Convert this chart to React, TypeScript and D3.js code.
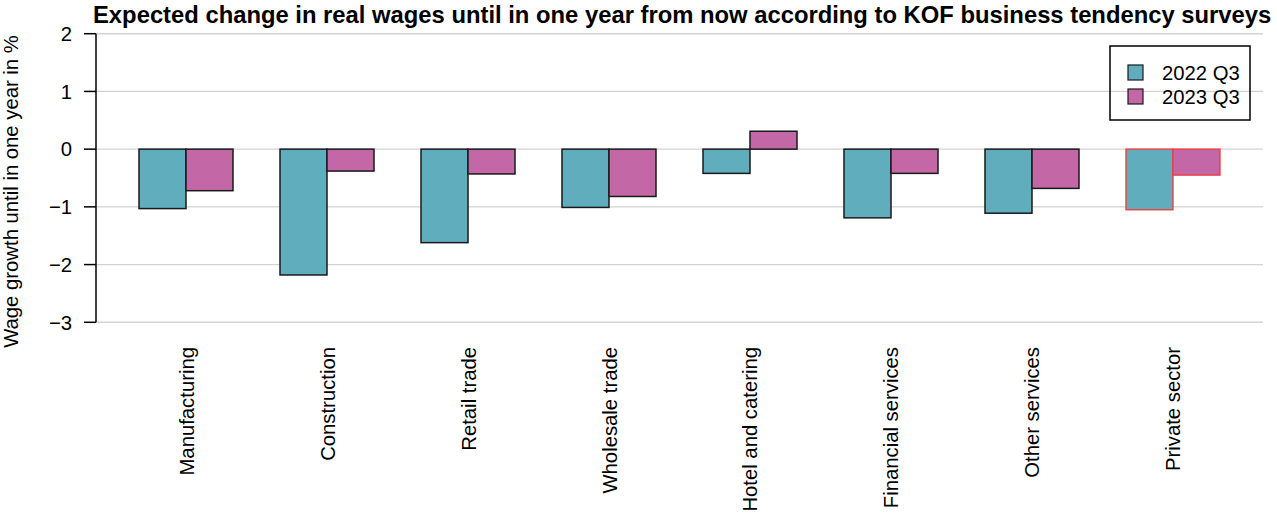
import React from "react";
import * as d3 from "d3";

const categories = [
  "Manufacturing",
  "Construction",
  "Retail trade",
  "Wholesale trade",
  "Hotel and catering",
  "Financial services",
  "Other services",
  "Private sector",
];
const seriesNames = ["2022 Q3", "2023 Q3"];
const values2022 = [-1.03, -2.18, -1.62, -1.01, -0.42, -1.19, -1.11, -1.05];
const values2023 = [-0.72, -0.38, -0.43, -0.82, 0.31, -0.42, -0.68, -0.45];
const yTicks = [-3, -2, -1, 0, 1, 2];
const colors = ["#5fadbd", "#c467a6"];
const title =
  "Expected change in real wages until in one year from now according to KOF business tendency surveys";
const yLabel = "Wage growth until in one year in %";

const W = 1277;
const H = 513;
const FONT = "'Liberation Sans', Arial, Helvetica, sans-serif";

export default function App() {
  const y = d3.scaleLinear().domain([-3, 2]).range([322.3, 33.7]);
  const x = d3
    .scaleBand<string>()
    .domain(categories)
    .range([96, 1263])
    .paddingInner(1 / 3)
    .paddingOuter(0.305);
  const xs = d3
    .scaleBand<string>()
    .domain(seriesNames)
    .range([0, x.bandwidth()]);
  const series = [values2022, values2023];

  return (
    <svg
      width={W}
      height={H}
      style={{ position: "absolute", left: 0, top: 0, background: "#fff" }}
      fontFamily={FONT}
    >
      {/* grid */}
      {yTicks.map((t) => (
        <line
          key={"g" + t}
          x1={96}
          x2={1263}
          y1={y(t)}
          y2={y(t)}
          stroke="#d3d3d3"
          strokeWidth={1.4}
        />
      ))}
      {/* bars */}
      {categories.map((c, i) =>
        series.map((vals, s) => {
          const v = vals[i];
          const isPriv = c === "Private sector";
          return (
            <rect
              key={c + s}
              x={(x(c) as number) + (xs(seriesNames[s]) as number)}
              width={xs.bandwidth()}
              y={Math.min(y(v), y(0))}
              height={Math.abs(y(v) - y(0))}
              fill={colors[s]}
              stroke={isPriv ? "#f03c3c" : "#1a1a1a"}
              strokeOpacity={isPriv ? 0.9 : 1}
              strokeWidth={1.5}
            />
          );
        })
      )}
      {/* y axis */}
      <line x1={96} x2={96} y1={y(-3)} y2={y(2)} stroke="#000" strokeWidth={1.5} />
      {yTicks.map((t) => (
        <g key={"t" + t}>
          <line x1={84} x2={96} y1={y(t)} y2={y(t)} stroke="#000" strokeWidth={1.5} />
          <text
            x={72}
            y={y(t)}
            dy="0.36em"
            textAnchor="end"
            fontSize={20.3}
            fill="#000"
          >
            {t < 0 ? "\u2212" + Math.abs(t) : String(t)}
          </text>
        </g>
      ))}
      {/* y label */}
      <text
        transform={`translate(17.5,191.5) rotate(-90)`}
        textAnchor="middle"
        fontSize={20.3}
        fill="#000"
      >
        {yLabel}
      </text>
      {/* category labels */}
      {categories.map((c) => (
        <text
          key={"l" + c}
          transform={`translate(${(x(c) as number) + x.bandwidth() / 2 + 7.5},347) rotate(-90)`}
          textAnchor="end"
          fontSize={20.3}
          fill="#000"
        >
          {c}
        </text>
      ))}
      {/* title */}
      <text x={93} y={23} fontSize={23.8} fontWeight="bold" fill="#000">
        {title}
      </text>
      {/* legend */}
      <rect x={1110} y={46} width={140} height={74} fill="none" stroke="#000" strokeWidth={1.5} />
      {seriesNames.map((s, i) => (
        <g key={"lg" + s}>
          <rect
            x={1128}
            y={65 + i * 24}
            width={15}
            height={15}
            fill={colors[i]}
            stroke="#1a1a1a"
            strokeWidth={1.2}
          />
          <text x={1162} y={79.5 + i * 24} fontSize={20.3} fill="#000">
            {s}
          </text>
        </g>
      ))}
    </svg>
  );
}
